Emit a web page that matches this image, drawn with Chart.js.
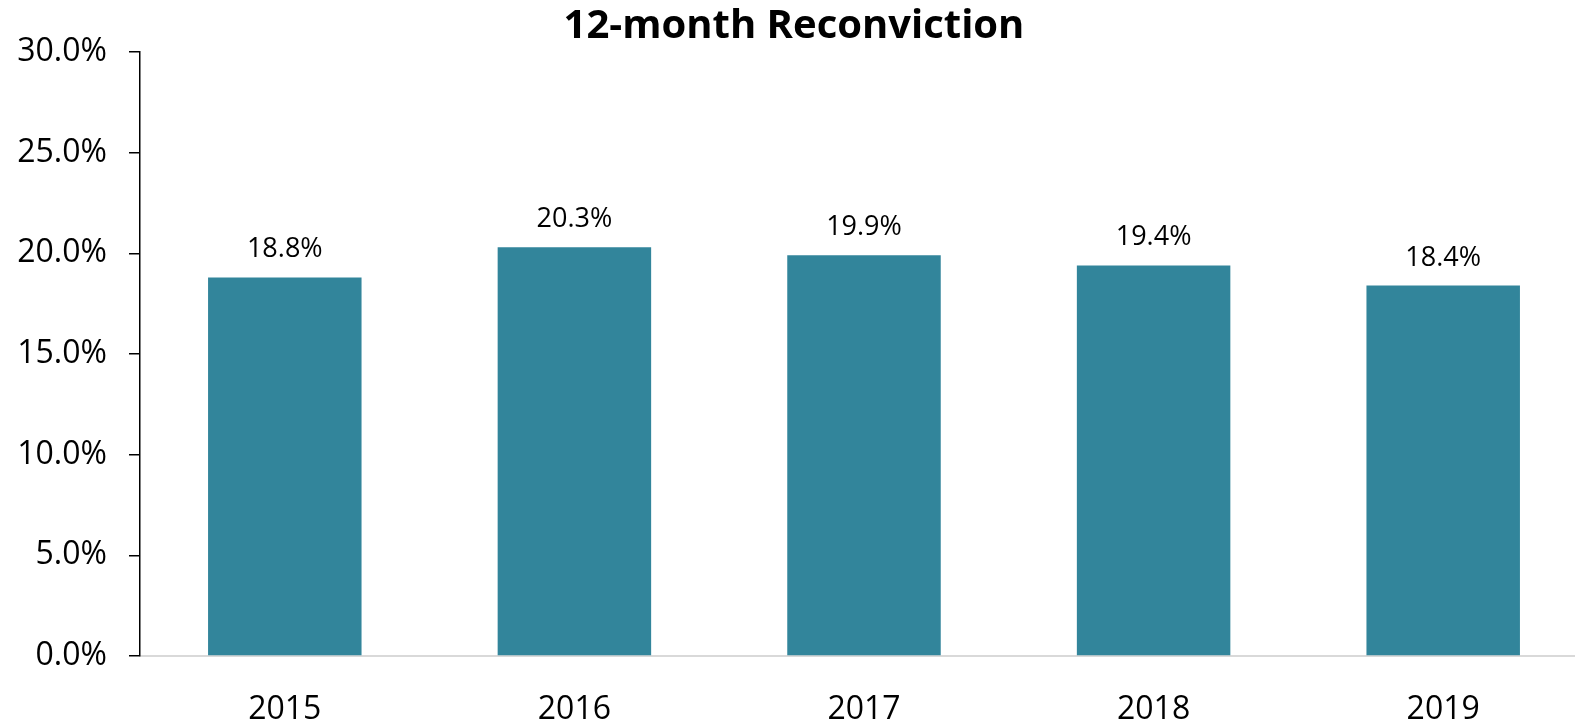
<!DOCTYPE html>
<html>
<head>
<meta charset="utf-8">
<script src="https://cdn.jsdelivr.net/npm/chart.js@4"></script>
<style>
  html, body { margin: 0; padding: 0; background: #fff; overflow: hidden; }
  #wrap { width: 1590px; height: 720px; }
</style>
</head>
<body>
<div id="wrap"><canvas id="reconChart" width="1590" height="720"></canvas></div>
<script>
// data
const years = ['2015', '2016', '2017', '2018', '2019'];
const reconvictionRate = [18.8, 20.3, 19.9, 19.4, 18.4];
const yTicks = [0, 5, 10, 15, 20, 25, 30];

const FONT = '"Open Sans", "Liberation Sans", sans-serif';

// labels above the bars
const barLabels = {
  id: 'barLabels',
  afterDatasetsDraw(chart) {
    const ctx = chart.ctx;
    const meta = chart.getDatasetMeta(0);
    ctx.save();
    ctx.font = '27px ' + FONT;
    ctx.fillStyle = '#000';
    ctx.textAlign = 'center';
    ctx.textBaseline = 'alphabetic';
    meta.data.forEach((bar, i) => {
      ctx.fillText(reconvictionRate[i].toFixed(1) + '%', bar.x, bar.y - 20);
    });
    ctx.restore();
  }
};

new Chart(document.getElementById('reconChart').getContext('2d'), {
  type: 'bar',
  data: {
    labels: years,
    datasets: [{
      data: reconvictionRate,
      backgroundColor: '#32859b',
      categoryPercentage: 1,
      barPercentage: 0.53
    }]
  },
  options: {
    responsive: false,
    animation: false,
    layout: { padding: { right: 2 } },
    plugins: {
      legend: { display: false },
      tooltip: { enabled: false },
      title: {
        display: true,
        text: '12-month Reconviction',
        color: '#000',
        font: { family: FONT, size: 40, weight: 'bold' },
        padding: { top: 3, bottom: 1 }
      }
    },
    scales: {
      x: {
        grid: { display: false },
        border: { display: true, color: '#d9d9d9', width: 2 },
        ticks: { color: '#000', font: { family: FONT, size: 32 }, padding: 27 },
        afterFit(s) { s.height = 64; }
      },
      y: {
        min: 0,
        max: 30,
        afterBuildTicks(s) { s.ticks = yTicks.map(v => ({ value: v })); },
        grid: { drawOnChartArea: false, drawTicks: true, tickLength: 11, color: '#000', lineWidth: 1.5 },
        border: { display: true, color: '#000', width: 1.5 },
        ticks: {
          color: '#000',
          font: { family: FONT, size: 32 },
          padding: 22,
          callback: v => v.toFixed(1) + '%'
        },
        afterFit(s) { s.width = 140; }
      }
    }
  },
  plugins: [barLabels]
});
</script>
</body>
</html>
